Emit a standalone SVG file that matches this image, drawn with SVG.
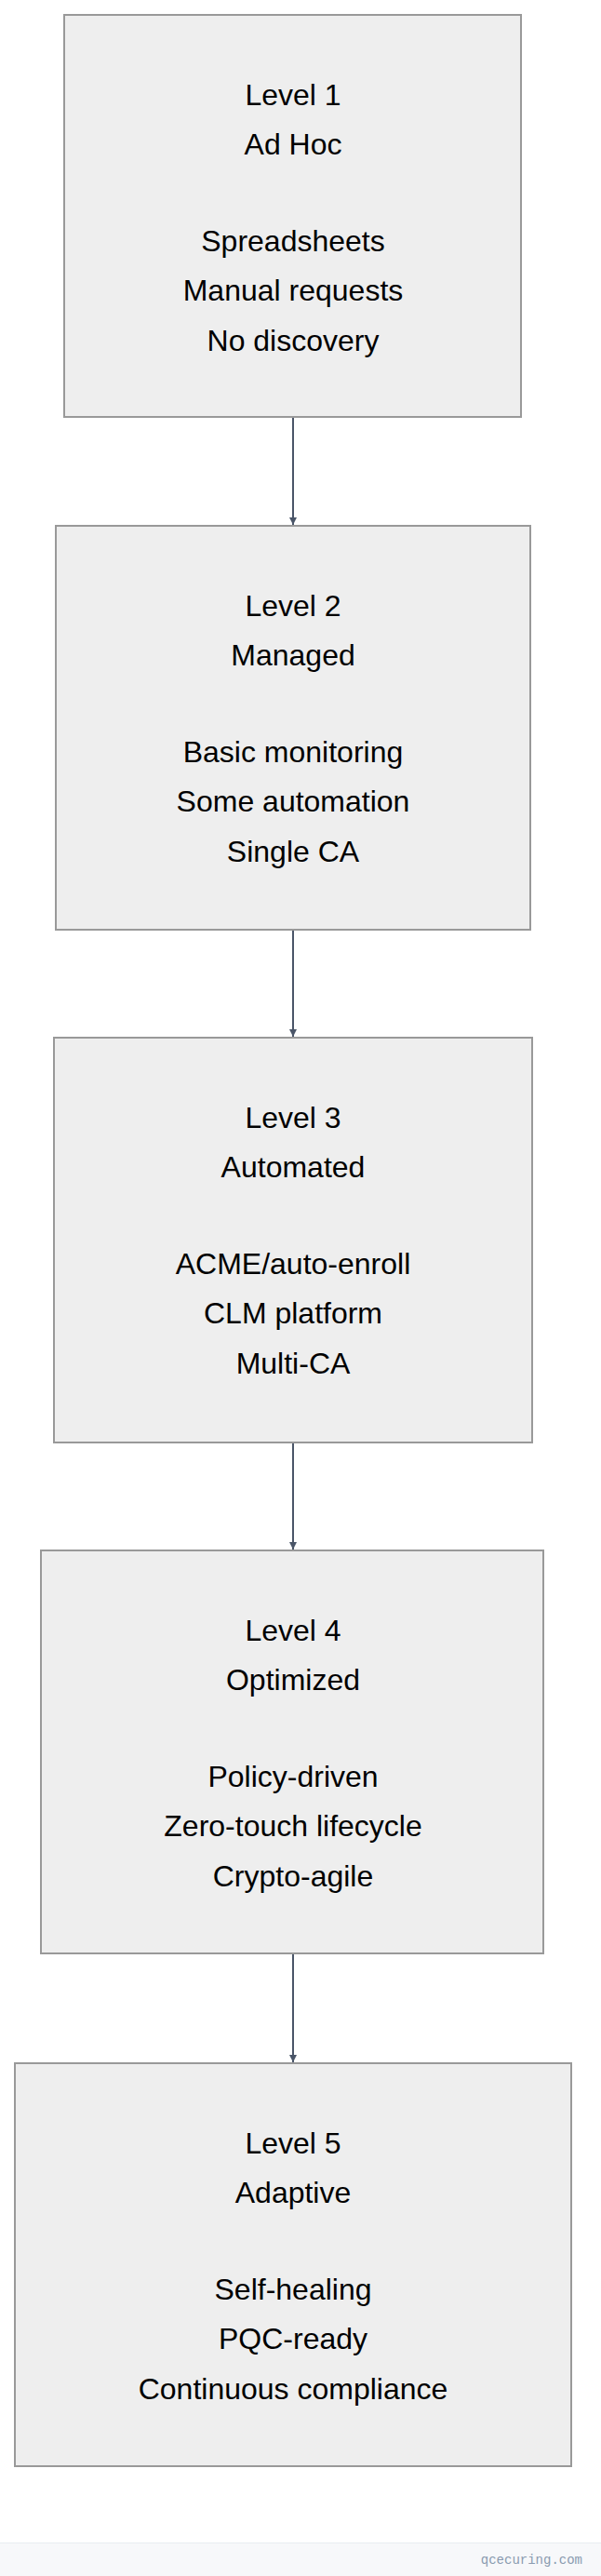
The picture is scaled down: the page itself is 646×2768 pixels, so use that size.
<svg xmlns="http://www.w3.org/2000/svg" width="646" height="2768" viewBox="0 0 646 2768">
<style>
.box{fill:#eeeeee;stroke:#999999;stroke-width:2}
.t{font-family:"Liberation Sans",Arial,sans-serif;font-size:32px;fill:#000;text-anchor:middle}
.edge{stroke:#4a5568;stroke-width:2;fill:none}
</style>
<defs><marker id="ah" viewBox="0 0 10 10" refX="10" refY="5" markerWidth="8" markerHeight="8" markerUnits="userSpaceOnUse" orient="auto"><path d="M0,0 L10,5 L0,10 z" fill="#4a5568"/></marker></defs>
<rect width="646" height="2768" fill="#ffffff"/>
<g id="connectors">
<line class="edge" x1="315" y1="448" x2="315" y2="564" marker-end="url(#ah)"/>
<line class="edge" x1="315" y1="1000" x2="315" y2="1114" marker-end="url(#ah)"/>
<line class="edge" x1="315" y1="1551" x2="315" y2="1665" marker-end="url(#ah)"/>
<line class="edge" x1="315" y1="2100" x2="315" y2="2216" marker-end="url(#ah)"/>
</g>
<g id="level1"><rect class="box" x="69" y="16" width="491" height="432"/>
<text class="t" x="315"><tspan x="315" y="113">Level 1</tspan><tspan x="315" y="166">Ad Hoc</tspan><tspan x="315" y="270">Spreadsheets</tspan><tspan x="315" y="323">Manual requests</tspan><tspan x="315" y="377">No discovery</tspan></text></g>
<g id="level2"><rect class="box" x="60" y="565" width="510" height="434"/>
<text class="t"><tspan x="315" y="662">Level 2</tspan><tspan x="315" y="715">Managed</tspan><tspan x="315" y="819">Basic monitoring</tspan><tspan x="315" y="872">Some automation</tspan><tspan x="315" y="926">Single CA</tspan></text></g>
<g id="level3"><rect class="box" x="58" y="1115" width="514" height="435"/>
<text class="t"><tspan x="315" y="1212">Level 3</tspan><tspan x="315" y="1265">Automated</tspan><tspan x="315" y="1369">ACME/auto-enroll</tspan><tspan x="315" y="1422">CLM platform</tspan><tspan x="315" y="1476">Multi-CA</tspan></text></g>
<g id="level4"><rect class="box" x="44" y="1666" width="540" height="433"/>
<text class="t"><tspan x="315" y="1763">Level 4</tspan><tspan x="315" y="1816">Optimized</tspan><tspan x="315" y="1920">Policy-driven</tspan><tspan x="315" y="1973">Zero-touch lifecycle</tspan><tspan x="315" y="2027">Crypto-agile</tspan></text></g>
<g id="level5"><rect class="box" x="16" y="2217" width="598" height="433"/>
<text class="t"><tspan x="315" y="2314">Level 5</tspan><tspan x="315" y="2367">Adaptive</tspan><tspan x="315" y="2471">Self-healing</tspan><tspan x="315" y="2524">PQC-ready</tspan><tspan x="315" y="2578">Continuous compliance</tspan></text></g>
<g id="footer"><rect x="0" y="2732" width="646" height="36" fill="#f7f8fa"/><line x1="0" y1="2732.5" x2="646" y2="2732.5" stroke="#e8ecf1"/>
<text x="626" y="2755" font-family="'Liberation Mono','DejaVu Sans Mono',monospace" font-size="14" fill="#8a9bb0" text-anchor="end">qcecuring.com</text></g>
</svg>
